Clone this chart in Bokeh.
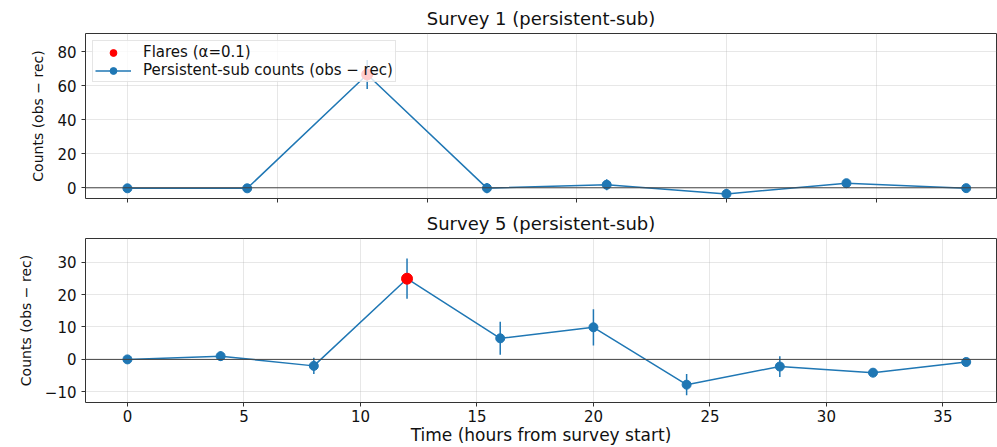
from bokeh.plotting import figure
from bokeh.models import Range1d, FixedTicker, Span, Legend, LegendItem, ColumnDataSource
from bokeh.layouts import column
from bokeh.embed import file_html
from bokeh.resources import INLINE

# ---------------- data ----------------
s1_time = [0.0, 5.14, 10.29, 15.43, 20.57, 25.71, 30.86, 36.0]
s1_counts = [-0.3, -0.3, 66.7, -0.2, 1.8, -3.6, 2.7, -0.2]
s1_err = [1.0, 1.0, 8.5, 3.0, 3.2, 3.0, 1.5, 1.0]
s1_flare_time = [10.29]
s1_flare_counts = [66.7]

s5_time = [0, 4, 8, 12, 16, 20, 24, 28, 32, 36]
s5_counts = [0.0, 1.0, -2.0, 24.9, 6.5, 9.9, -7.8, -2.2, -4.1, -0.8]
s5_err = [0.5, 1.5, 2.5, 6.2, 5.1, 5.6, 3.3, 3.2, 1.3, 0.5]
s5_flare_time = [12]
s5_flare_counts = [24.9]

s1_yticks = [0, 20, 40, 60, 80]
s5_yticks = [-10, 0, 10, 20, 30]
x_ticks = [0, 5, 10, 15, 20, 25, 30, 35]
s1_xticks = [0, 6.43, 12.86, 19.29, 25.71, 32.14]

BLUE = "#1f77b4"
FONT = "DejaVu Sans"


def make_panel(title, t, c, e, ft, fc, yr, yticks, xticks, height, top_border,
               bottom_border, show_xlabels, legend=False):
    p = figure(width=997, height=height, output_backend="svg", toolbar_location=None,
               x_range=Range1d(-1.8, 37.3), y_range=Range1d(*yr),
               min_border_left=85, min_border_right=1,
               min_border_top=top_border, min_border_bottom=bottom_border)
    p.title.text = title
    p.title.align = "center"
    p.title.text_font = FONT
    p.title.text_font_size = "18px"
    p.title.text_font_style = "normal"
    p.title.text_color = "#111111"
    p.title.offset = 0
    p.outline_line_color = "#333333"
    p.outline_line_width = 1

    src = ColumnDataSource(dict(t=t, c=c, lo=[a - b for a, b in zip(c, e)],
                                hi=[a + b for a, b in zip(c, e)]))
    p.add_layout(Span(location=0, dimension="width", line_color="#444444", line_width=1))
    p.segment(x0="t", y0="lo", x1="t", y1="hi", source=src, line_color=BLUE, line_width=1.5)
    ln = p.line("t", "c", source=src, line_color=BLUE, line_width=1.5)
    sc = p.scatter("t", "c", source=src, size=9, fill_color=BLUE, line_color=BLUE)
    fl = p.scatter(ft, fc, size=11, fill_color="red", line_color="red")

    for ax in (p.xaxis[0], p.yaxis[0]):
        ax.axis_line_color = None
        ax.major_tick_in = 0
        ax.major_tick_out = 4
        ax.major_tick_line_color = "#333333"
        ax.minor_tick_line_color = None
        ax.major_label_text_font = FONT
        ax.major_label_text_font_size = "15px"
        ax.major_label_text_color = "#111111"
        ax.axis_label_text_font = FONT
        ax.axis_label_text_font_style = "normal"
        ax.axis_label_text_color = "#111111"

    p.yaxis.ticker = FixedTicker(ticks=yticks)
    p.yaxis.major_label_overrides = {v: ("\u2212" + str(-v)) for v in yticks if v < 0}
    p.yaxis.major_label_standoff = 5
    p.yaxis.axis_label = "Counts (obs \u2212 rec)"
    p.yaxis.axis_label_text_font_size = "14px"
    p.yaxis.axis_label_standoff = 8
    p.xaxis.ticker = FixedTicker(ticks=xticks)
    if show_xlabels:
        p.xaxis.axis_label = "Time (hours from survey start)"
        p.xaxis.axis_label_text_font_size = "17px"
        p.xaxis.axis_label_standoff = 0
        p.xaxis.major_label_standoff = 3
    else:
        p.xaxis.major_label_overrides = {v: "" for v in xticks}
        p.xaxis.major_label_text_font_size = "1px"
        p.xaxis.major_label_text_color = None
        p.xaxis.major_label_standoff = 0

    p.xgrid.ticker = FixedTicker(ticks=xticks)
    p.ygrid.ticker = FixedTicker(ticks=yticks)
    p.grid.grid_line_color = "#b0b0b0"
    p.grid.grid_line_alpha = 0.3

    if legend:
        lg = Legend(items=[LegendItem(label="Flares (\u03b1=0.1)", renderers=[fl]),
                           LegendItem(label="Persistent-sub counts (obs \u2212 rec)",
                                      renderers=[ln, sc])],
                    location="top_left")
        lg.label_text_font = FONT
        lg.label_text_font_size = "15px"
        lg.label_text_color = "#111111"
        lg.background_fill_alpha = 0.8
        lg.border_line_color = "#cccccc"
        lg.border_line_width = 1
        lg.margin = 7
        lg.padding = 2
        lg.spacing = 0
        lg.label_height = 17
        lg.glyph_height = 17
        lg.glyph_width = 36
        lg.label_standoff = 12
        p.add_layout(lg)
    return p


p1 = make_panel("Survey 1 (persistent-sub)", s1_time, s1_counts, s1_err,
                s1_flare_time, s1_flare_counts, (-6.3, 90.8), s1_yticks, s1_xticks,
                205, 29, 7, False, legend=True)
p2 = make_panel("Survey 5 (persistent-sub)", s5_time, s5_counts, s5_err,
                s5_flare_time, s5_flare_counts, (-13.3, 37.3), s5_yticks, x_ticks,
                242, 32, 43, True)

layout = column(p1, p2, spacing=0)
open("out.html", "w").write(file_html(layout, INLINE))
